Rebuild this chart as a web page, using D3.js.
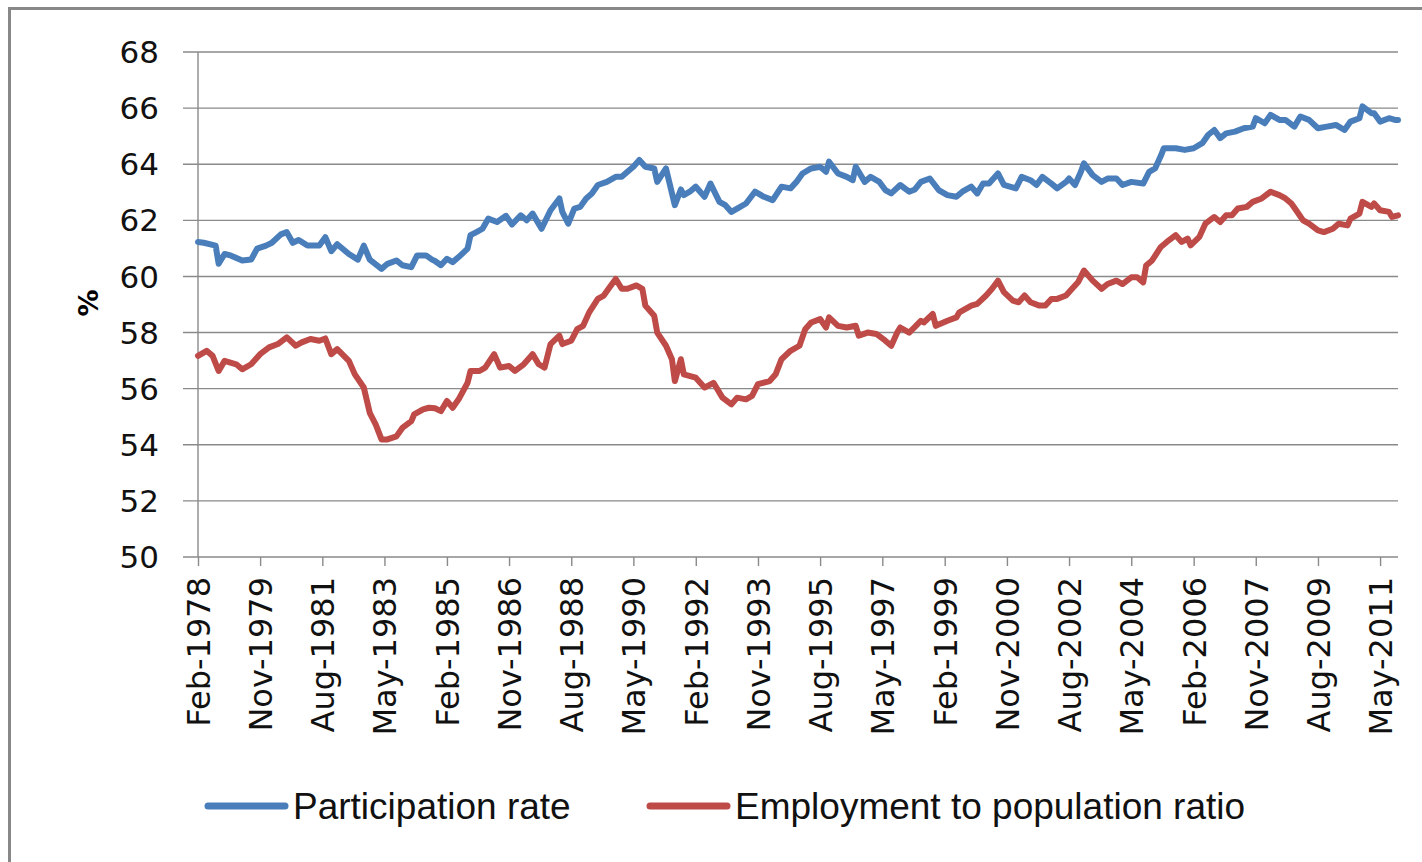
<!DOCTYPE html>
<html>
<head>
<meta charset="utf-8">
<script src="https://cdn.jsdelivr.net/npm/d3@7"></script>
<style>
  body { margin: 0; background: #fff; }
  svg { display: block; }
</style>
</head>
<body>
<script>
// months counted from Feb-1978 (%)
var partMonth = [0,2,6,7,9,11,15,18,20,23,25,28,30,32,34,37,41,43,45,47,51,54,56,58,62,64,67,69,72,74,77,79,80,82,84,86,88,91,92,94,96,98,101,104,106,109,111,113,116,119,122,123,125,127,129,131,133,135,138,141,143,145,147,149,151,154,155,158,161,163,164,166,168,171,173,176,178,180,182,185,188,191,194,197,200,202,204,207,210,212,213,216,219,221,222,225,227,230,232,234,237,240,242,244,247,250,253,256,258,261,263,265,267,270,272,276,278,281,283,285,288,290,293,294,296,298,299,302,305,307,310,312,315,319,321,323,325,326,330,333,336,339,341,343,345,347,350,353,356,357,360,362,365,367,370,372,375,378,381,384,387,389,392,393,396,397,399,402,404,405];
var partValue = [61.23,61.2,61.1,60.45,60.8,60.75,60.57,60.6,60.99,61.1,61.2,61.5,61.58,61.2,61.3,61.1,61.1,61.4,60.9,61.15,60.8,60.6,61.1,60.6,60.27,60.45,60.57,60.4,60.33,60.75,60.75,60.6,60.55,60.4,60.63,60.51,60.69,60.99,61.47,61.58,61.7,62.06,61.94,62.16,61.85,62.18,62.0,62.24,61.7,62.36,62.78,62.3,61.88,62.42,62.48,62.78,62.96,63.26,63.37,63.55,63.55,63.73,63.91,64.15,63.91,63.85,63.37,63.85,62.54,63.1,62.9,63.02,63.2,62.84,63.31,62.66,62.54,62.3,62.42,62.6,63.02,62.84,62.72,63.2,63.14,63.37,63.67,63.85,63.91,63.73,64.09,63.67,63.55,63.43,63.91,63.37,63.55,63.37,63.08,62.96,63.26,63.02,63.1,63.37,63.49,63.08,62.9,62.84,63.02,63.2,62.96,63.31,63.31,63.67,63.26,63.14,63.55,63.43,63.26,63.55,63.31,63.14,63.37,63.49,63.26,63.73,64.03,63.61,63.37,63.49,63.49,63.26,63.37,63.31,63.73,63.85,64.3,64.57,64.57,64.51,64.57,64.75,65.05,65.22,64.93,65.1,65.16,65.28,65.34,65.64,65.46,65.76,65.58,65.58,65.34,65.7,65.58,65.28,65.34,65.4,65.22,65.52,65.64,66.06,65.82,65.82,65.52,65.64,65.58,65.58];

var empMonth = [0,3,5,7,9,13,15,18,21,24,27,30,33,35,38,41,43,45,47,51,53,56,58,60,62,64,67,69,72,73,76,78,80,82,84,86,88,91,92,95,97,100,102,105,107,110,113,115,117,119,122,123,126,128,130,132,135,137,139,141,143,145,148,150,151,154,155,158,160,161,163,164,168,171,174,177,180,182,185,187,189,193,195,197,200,203,205,207,210,212,213,216,219,222,223,226,229,232,234,236,237,240,242,244,245,248,249,253,256,257,261,263,266,268,270,272,275,277,279,281,284,286,288,290,293,295,297,299,302,305,307,310,312,315,317,319,320,322,325,327,330,332,334,335,338,340,343,345,347,349,351,354,356,359,362,365,367,369,371,373,375,378,380,383,385,388,389,392,393,396,397,399,402,403,405];
var empValue = [57.17,57.35,57.17,56.63,56.99,56.87,56.69,56.87,57.23,57.47,57.59,57.83,57.53,57.65,57.77,57.71,57.79,57.23,57.41,56.99,56.51,56.04,55.14,54.72,54.19,54.19,54.3,54.6,54.84,55.08,55.26,55.32,55.3,55.2,55.56,55.32,55.62,56.21,56.63,56.63,56.75,57.23,56.75,56.81,56.63,56.87,57.23,56.87,56.75,57.59,57.89,57.59,57.71,58.12,58.24,58.72,59.2,59.32,59.62,59.91,59.56,59.56,59.68,59.56,58.96,58.6,58.0,57.53,57.05,56.27,57.05,56.51,56.39,56.04,56.21,55.68,55.44,55.68,55.62,55.74,56.16,56.27,56.51,57.05,57.35,57.53,58.12,58.36,58.48,58.18,58.54,58.24,58.18,58.24,57.89,58.0,57.95,57.71,57.53,58.0,58.18,58.0,58.2,58.42,58.36,58.66,58.24,58.42,58.54,58.72,58.96,59.02,59.32,59.56,59.85,59.44,59.14,59.08,59.32,59.08,58.96,58.96,59.2,59.2,59.32,59.56,59.79,60.21,59.85,59.56,59.73,59.85,59.73,59.97,59.97,59.79,60.39,60.57,61.05,61.23,61.47,61.23,61.35,61.11,61.41,61.88,62.12,61.94,62.18,62.18,62.42,62.48,62.66,62.78,63.02,62.9,62.78,62.6,62.3,62.0,61.88,61.64,61.58,61.7,61.88,61.82,62.06,62.24,62.66,62.48,62.6,62.36,62.3,62.12,62.18];

var seriesNames = ["Participation rate", "Employment to population ratio"];
var seriesColors = ["#4a7ebb", "#be4b48"];
var yTicks = [50, 52, 54, 56, 58, 60, 62, 64, 66, 68];
var tickMonths = d3.range(0, 400, 21); // Feb-1978, Nov-1979, ... May-2011
var firstMonth = new Date(1978, 1, 1);
var lastMonth = 405;

var svg = d3.select("body").append("svg")
    .attr("width", 1422)
    .attr("height", 862);

// chart area border
svg.append("rect")
    .attr("x", 9.5).attr("y", 8.5)
    .attr("width", 1430).attr("height", 870)
    .attr("fill", "#fff")
    .attr("stroke", "#888")
    .attr("stroke-width", 3);

var toDate = function(m) { return d3.timeMonth.offset(firstMonth, m); };

var x = d3.scaleTime()
    .domain([firstMonth, toDate(lastMonth)])
    .range([198, 1398]);
var y = d3.scaleLinear().domain([50, 68]).range([557, 52]);

// gridlines (they poke out left of the axis like tick marks)
svg.append("g").selectAll("line")
    .data(yTicks).enter().append("line")
    .attr("x1", 183).attr("x2", x.range()[1])
    .attr("y1", function(d) { return y(d); })
    .attr("y2", function(d) { return y(d); })
    .attr("stroke", "#8a8a8a")
    .attr("stroke-width", 1.4);

svg.append("line")
    .attr("x1", x.range()[0]).attr("x2", x.range()[0])
    .attr("y1", y(68)).attr("y2", y(50))
    .attr("stroke", "#8a8a8a")
    .attr("stroke-width", 1.4);

svg.append("g").selectAll("text")
    .data(yTicks).enter().append("text")
    .attr("x", 159)
    .attr("y", function(d) { return y(d); })
    .attr("dy", "0.36em")
    .attr("text-anchor", "end")
    .style("font-family", "'DejaVu Sans', Verdana, sans-serif")
    .style("font-size", "31px")
    .attr("fill", "#111")
    .text(function(d) { return d; });

// x axis ticks + rotated labels
var xAxis = d3.axisBottom(x)
    .tickValues(tickMonths.map(toDate))
    .tickFormat(d3.timeFormat("%b-%Y"))
    .tickSize(9)
    .tickSizeOuter(0);

var gx = svg.append("g")
    .attr("transform", "translate(0," + y(50) + ")")
    .call(xAxis);
gx.select(".domain").remove();
gx.selectAll(".tick line").attr("stroke", "#8a8a8a").attr("stroke-width", 1.4);
gx.selectAll(".tick text")
    .attr("transform", "rotate(-90)")
    .attr("x", -20)
    .attr("y", 0)
    .attr("dy", "0.36em")
    .attr("text-anchor", "end")
    .style("font-family", "'DejaVu Sans', Verdana, sans-serif")
    .style("font-size", "32px")
    .attr("fill", "#111");

// y axis title
svg.append("text")
    .attr("transform", "translate(88,303) rotate(-90)")
    .attr("text-anchor", "middle")
    .attr("dy", "0.36em")
    .style("font-family", "'DejaVu Sans', Verdana, sans-serif")
    .style("font-size", "27px")
    .style("font-weight", "bold")
    .text("%");

var line = d3.line()
    .x(function(d) { return x(toDate(d[0])); })
    .y(function(d) { return y(d[1]); });

var series = [d3.zip(partMonth, partValue), d3.zip(empMonth, empValue)];

svg.append("g").selectAll("path")
    .data(series).enter().append("path")
    .attr("d", line)
    .attr("fill", "none")
    .attr("stroke", function(d, i) { return seriesColors[i]; })
    .attr("stroke-width", 6)
    .attr("stroke-linejoin", "round")
    .attr("stroke-linecap", "round");

// legend
var legendX = [208, 650];
var legend = svg.append("g").selectAll("g")
    .data(seriesNames).enter().append("g")
    .attr("transform", function(d, i) { return "translate(" + legendX[i] + ",806)"; });

legend.append("line")
    .attr("x1", 0).attr("x2", 77)
    .attr("stroke", function(d, i) { return seriesColors[i]; })
    .attr("stroke-width", 7)
    .attr("stroke-linecap", "round");

legend.append("text")
    .attr("x", 85)
    .attr("dy", "0.35em")
    .style("font-family", "'Liberation Sans', Arial, sans-serif")
    .style("font-size", "37px")
    .attr("fill", "#111")
    .text(function(d) { return d; });
</script>
</body>
</html>
